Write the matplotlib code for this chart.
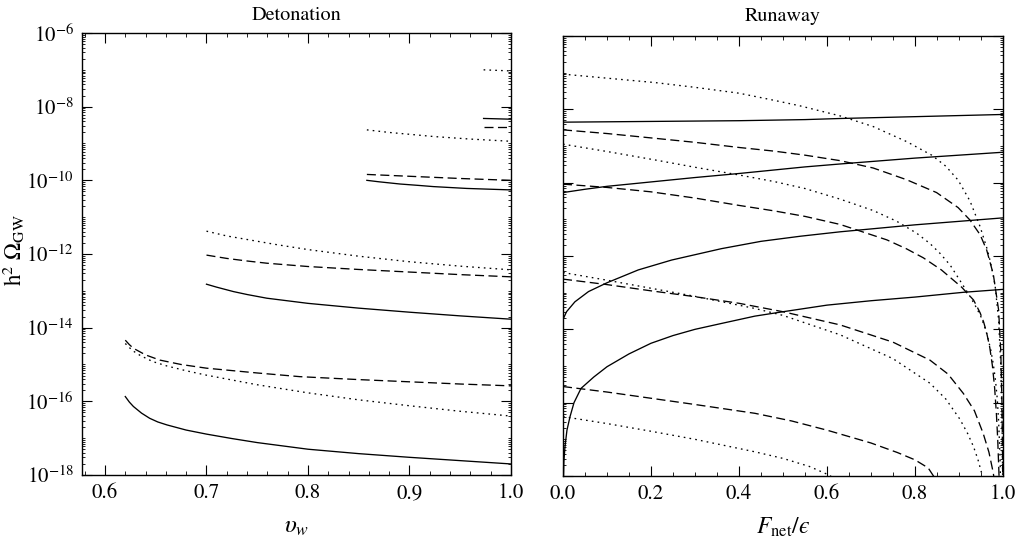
import numpy as np
import matplotlib
matplotlib.use('Agg')
import matplotlib.pyplot as plt
from matplotlib.ticker import MultipleLocator, FixedLocator, FuncFormatter, NullFormatter

plt.rcParams['font.family'] = ['STIXGeneral', 'DejaVu Serif']
plt.rcParams['mathtext.fontset'] = 'stix'
plt.rcParams['lines.scale_dashes'] = False

# values are log10(h^2 Omega_GW)

# --- Detonation panel (x = v_w) ---
det_v_a = [0.62, 0.624, 0.628, 0.636, 0.644, 0.652, 0.661, 0.68, 0.70, 0.725, 0.75, 0.80, 0.85, 0.90, 0.95, 1.0]
det_solid_a = [-15.87, -16.02, -16.14, -16.32, -16.46, -16.56, -16.64, -16.78, -16.89, -17.01, -17.12,
               -17.30, -17.42, -17.52, -17.61, -17.70]
det_v_a_dash = [0.62, 0.624, 0.628, 0.64, 0.654, 0.675, 0.70, 0.75, 0.792, 0.85, 0.90, 0.95, 1.0]
det_dash_a = [-14.34, -14.46, -14.56, -14.74, -14.88, -15.00, -15.10, -15.23, -15.33, -15.41, -15.47,
              -15.53, -15.58]
det_v_a_dot = [0.62, 0.627, 0.635, 0.647, 0.661, 0.68, 0.70, 0.75, 0.80, 0.85, 0.90, 0.95, 1.0]
det_dot_a = [-14.43, -14.62, -14.76, -14.92, -15.04, -15.17, -15.29, -15.55, -15.77, -15.96, -16.12,
             -16.27, -16.40]

det_v_b = [0.70, 0.71, 0.7265, 0.74, 0.7594, 0.80, 0.85, 0.90, 0.95, 1.0]
det_solid_b = [-12.82, -12.90, -13.02, -13.10, -13.20, -13.34, -13.47, -13.58, -13.68, -13.77]
det_v_b_dash = [0.70, 0.72, 0.74, 0.7594, 0.80, 0.85, 0.90, 0.95, 1.0]
det_dash_b = [-12.03, -12.12, -12.19, -12.25, -12.34, -12.42, -12.49, -12.56, -12.62]
det_v_b_dot = [0.70, 0.72, 0.7429, 0.77, 0.80, 0.85, 0.90, 0.95, 1.0]
det_dot_b = [-11.38, -11.51, -11.62, -11.75, -11.88, -12.06, -12.21, -12.33, -12.43]

det_v_c = [0.858, 0.87, 0.8907, 0.91, 0.9235, 0.9564, 1.0]
det_solid_c = [-10.00, -10.04, -10.10, -10.14, -10.17, -10.22, -10.26]
det_v_c_dash = [0.858, 0.90, 0.95, 1.0]
det_dash_c = [-9.84, -9.89, -9.95, -10.00]
det_v_c_dot = [0.858, 0.88, 0.90, 0.9235, 0.96, 1.0]
det_dot_c = [-8.63, -8.70, -8.75, -8.81, -8.88, -8.94]

det_v_d = [0.973, 1.0]
det_solid_d = [-8.32, -8.34]
det_dash_d = [-8.56, -8.56]
det_dot_d = [-7.00, -7.03]

# --- Runaway panel (x = F_net / epsilon) ---
run_f_s1 = [0.0, 0.2, 0.4, 0.55, 0.63, 0.8, 1.0]
run_s1 = [-8.35, -8.33, -8.31, -8.28, -8.25, -8.20, -8.14]
run_f_s2 = [0.0, 0.05, 0.1, 0.2, 0.3, 0.4, 0.55, 0.63, 0.8, 1.0]
run_s2 = [-10.27, -10.18, -10.10, -9.98, -9.86, -9.75, -9.57, -9.49, -9.33, -9.17]
run_f_s3 = [0.0, 0.008, 0.027, 0.058, 0.1, 0.171, 0.247, 0.36, 0.45, 0.54, 0.63, 0.8, 1.0]
run_s3 = [-13.73, -13.52, -13.25, -12.97, -12.73, -12.38, -12.11, -11.80, -11.60, -11.46, -11.34,
          -11.15, -10.96]
run_f_s4 = [0.0, 0.002, 0.0045, 0.009, 0.016, 0.025, 0.041, 0.07, 0.1, 0.15, 0.2, 0.25, 0.3, 0.36,
            0.436, 0.5, 0.6, 0.7, 0.8, 0.91, 1.0]
run_s4 = [-18.5, -17.6, -17.2, -16.75, -16.38, -16.0, -15.61, -15.30, -15.02, -14.67, -14.38, -14.17,
          -14.0, -13.84, -13.64, -13.52, -13.34, -13.22, -13.12, -12.99, -12.91]

run_f_d1 = [0.0, 0.1, 0.209, 0.3, 0.4, 0.48, 0.55, 0.63, 0.705, 0.781, 0.849, 0.898, 0.925, 0.948,
            0.963, 0.978, 0.99, 0.995, 0.998, 1.0]
run_d1 = [-8.56, -8.66, -8.79, -8.90, -9.04, -9.14, -9.25, -9.40, -9.60, -9.92, -10.27, -10.68,
          -11.02, -11.42, -11.84, -12.50, -13.47, -14.6, -16.2, -19.0]
run_f_d2 = [0.0, 0.1, 0.2, 0.3, 0.4, 0.48, 0.55, 0.63, 0.736, 0.78, 0.819, 0.86, 0.906, 0.933, 0.94,
            0.948, 0.956, 0.963, 0.97, 0.976, 0.981, 0.985, 0.988, 0.991, 0.993]
run_d2 = [-10.04, -10.13, -10.25, -10.42, -10.62, -10.77, -10.92, -11.14, -11.56, -11.80, -12.05,
          -12.38, -12.85, -13.20, -13.36, -13.55, -13.80, -14.10, -14.50, -15.00, -15.60, -16.30,
          -17.00, -18.00, -19.0]
run_f_d3 = [0.0, 0.1, 0.2, 0.3, 0.4, 0.5, 0.63, 0.75, 0.834, 0.875, 0.91, 0.935, 0.955, 0.968, 0.978, 0.984]
run_d3 = [-12.63, -12.78, -12.95, -13.11, -13.29, -13.52, -13.88, -14.35, -14.84, -15.22, -15.75,
          -16.22, -16.84, -17.35, -17.92, -18.5]
run_f_d4 = [0.0, 0.1, 0.2, 0.3, 0.436, 0.52, 0.6, 0.7, 0.76, 0.8, 0.83, 0.842, 0.85]
run_d4 = [-15.56, -15.71, -15.88, -16.05, -16.29, -16.50, -16.75, -17.10, -17.36, -17.56, -17.78,
          -18.0, -18.15]

run_f_p1 = [0.0, 0.1, 0.209, 0.3, 0.4, 0.47, 0.537, 0.63, 0.705, 0.781, 0.838, 0.87, 0.898, 0.925,
            0.948, 0.965, 0.974, 0.982, 0.99, 0.995, 0.998, 1.0]
run_p1 = [-7.04, -7.15, -7.27, -7.40, -7.56, -7.73, -7.90, -8.18, -8.47, -8.88, -9.25, -9.55, -9.93,
          -10.50, -11.20, -11.85, -12.30, -12.80, -13.74, -15.0, -16.6, -19.0]
run_f_p2 = [0.0, 0.1, 0.209, 0.3, 0.4, 0.48, 0.55, 0.63, 0.705, 0.758, 0.804, 0.834, 0.857, 0.88,
            0.906, 0.925, 0.94, 0.95, 0.958, 0.965, 0.972, 0.978, 0.983, 0.987, 0.99, 0.993, 0.995]
run_p2 = [-8.95, -9.15, -9.38, -9.58, -9.79, -9.97, -10.16, -10.45, -10.76, -11.05, -11.38, -11.66,
          -11.93, -12.25, -12.74, -13.10, -13.42, -13.66, -13.92, -14.20, -14.55, -14.95, -15.40,
          -15.90, -16.50, -17.40, -18.5]
run_f_p3 = [0.0, 0.1, 0.2, 0.3, 0.436, 0.5, 0.63, 0.75, 0.834, 0.87, 0.902, 0.92, 0.933, 0.943, 0.951, 0.957]
run_p3 = [-12.45, -12.66, -12.88, -13.10, -13.43, -13.62, -14.15, -14.80, -15.47, -15.90, -16.45,
          -16.85, -17.20, -17.55, -17.90, -18.3]
run_f_p4 = [0.0, 0.1, 0.2, 0.3, 0.436, 0.5, 0.56, 0.6, 0.63]
run_p4 = [-16.38, -16.57, -16.78, -17.00, -17.34, -17.52, -17.74, -17.95, -18.15]

SOLID = '-'
DASH = (0, (6.5, 3.2))
DOT = (0, (1.2, 3.0))


def draw(ax, x, logy, ls):
    ax.plot(x, 10.0 ** np.asarray(logy), color='black', lw=0.95, linestyle=ls)


def log_ticks(ax, labels=True):
    ax.set_yscale('log')
    ax.set_ylim(1e-18, 1e-6)
    ax.yaxis.set_major_locator(FixedLocator([10.0 ** e for e in range(-18, -5, 2)]))
    minor = []
    for e in range(-18, -6):
        for s in range(1, 10):
            if s == 1 and e % 2 == 0:
                continue
            minor.append(s * 10.0 ** e)
    ax.yaxis.set_minor_locator(FixedLocator(minor))
    ax.yaxis.set_minor_formatter(NullFormatter())
    if labels:
        ax.yaxis.set_major_formatter(FuncFormatter(
            lambda v, pos: r'$10^{%d}$' % int(round(np.log10(v)))))
    else:
        ax.yaxis.set_major_formatter(NullFormatter())
    ax.tick_params(which='both', direction='in', top=True, right=True)
    ax.tick_params(which='major', length=7, width=0.8, labelsize=15, pad=6)
    ax.tick_params(which='minor', length=3, width=0.6)
    ax.tick_params(axis='y', which='minor', length=2.5)
    for sp in ax.spines.values():
        sp.set_linewidth(1.0)


fig = plt.figure(figsize=(10.31, 5.43), dpi=100)
ax1 = fig.add_axes([82 / 1031, 68 / 543, 429 / 1031, 442 / 543])
ax2 = fig.add_axes([563 / 1031, 67 / 543, 440 / 1031, 440 / 543])

# Detonation
draw(ax1, det_v_a, det_solid_a, SOLID)
draw(ax1, det_v_a_dash, det_dash_a, DASH)
draw(ax1, det_v_a_dot, det_dot_a, DOT)
draw(ax1, det_v_b, det_solid_b, SOLID)
draw(ax1, det_v_b_dash, det_dash_b, DASH)
draw(ax1, det_v_b_dot, det_dot_b, DOT)
draw(ax1, det_v_c, det_solid_c, SOLID)
draw(ax1, det_v_c_dash, det_dash_c, DASH)
draw(ax1, det_v_c_dot, det_dot_c, DOT)
draw(ax1, det_v_d, det_solid_d, SOLID)
draw(ax1, det_v_d, det_dash_d, DASH)
draw(ax1, det_v_d, det_dot_d, DOT)

ax1.set_xlim(1 / np.sqrt(3), 1.0)
ax1.xaxis.set_major_locator(MultipleLocator(0.1))
ax1.xaxis.set_minor_locator(MultipleLocator(0.02))
ax1.xaxis.set_major_formatter(FuncFormatter(lambda v, pos: '%.1f' % v))
log_ticks(ax1)
ax1.set_title('Detonation', fontsize=14.5, pad=9)
ax1.set_xlabel(r'$\upsilon_w$', fontsize=18, labelpad=8)
ax1.set_ylabel(r'$\mathrm{h}^2\ \Omega_{\mathrm{GW}}$', fontsize=16.5)
ax1.yaxis.set_label_coords(-0.129, 0.51)

# Runaway
for f, y in [(run_f_s1, run_s1), (run_f_s2, run_s2), (run_f_s3, run_s3), (run_f_s4, run_s4)]:
    draw(ax2, f, y, SOLID)
for f, y in [(run_f_d1, run_d1), (run_f_d2, run_d2), (run_f_d3, run_d3), (run_f_d4, run_d4)]:
    draw(ax2, f, y, DASH)
for f, y in [(run_f_p1, run_p1), (run_f_p2, run_p2), (run_f_p3, run_p3), (run_f_p4, run_p4)]:
    draw(ax2, f, y, DOT)

ax2.set_xlim(0.0, 1.0)
ax2.xaxis.set_major_locator(MultipleLocator(0.2))
ax2.xaxis.set_minor_locator(MultipleLocator(0.05))
ax2.xaxis.set_major_formatter(FuncFormatter(lambda v, pos: '%.1f' % v))
log_ticks(ax2, labels=False)
ax2.set_title('Runaway', fontsize=14.5, pad=11)
ax2.set_xlabel('$F_{\\mathrm{net}}/\u03f5$', fontsize=17, labelpad=8)

fig.savefig('out.png', dpi=100)
